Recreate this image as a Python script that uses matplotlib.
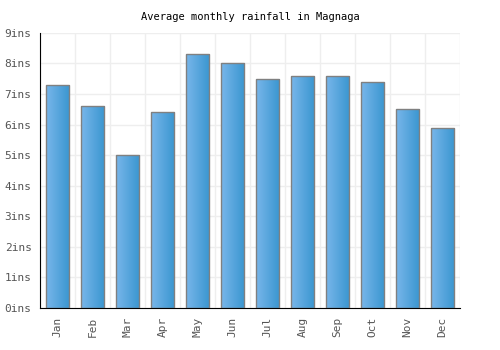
import matplotlib
matplotlib.use("Agg")
import matplotlib.pyplot as plt
import numpy as np
from matplotlib.colors import LinearSegmentedColormap

months = ["Jan", "Feb", "Mar", "Apr", "May", "Jun", "Jul", "Aug", "Sep", "Oct", "Nov", "Dec"]
rainfall = [7.3, 6.6, 5.0, 6.4, 8.3, 8.0, 7.5, 7.6, 7.6, 7.4, 6.5, 5.9]
yticks = [0, 1, 2, 3, 4, 5, 6, 7, 8, 9]
ytick_labels = [f"{v}ins" for v in yticks]
title = "Average monthly rainfall in Magnaga"

plt.rcParams['font.family'] = ['DejaVu Sans Mono']

fig = plt.figure(figsize=(5, 3.5), dpi=100)
ax = fig.add_axes([0.08, 0.12, 0.84, 0.786])

x = np.arange(len(months))
bars = ax.bar(x, rainfall, width=0.66, color="none", edgecolor="#808080", linewidth=1.0, zorder=3)

cmap = LinearSegmentedColormap.from_list("g", ["#78b6ea", "#3a96d0"])
grad = np.linspace(0, 1, 64).reshape(1, -1)
for b in bars:
    x0, y0 = b.get_x(), b.get_y()
    w, h = b.get_width(), b.get_height()
    im = ax.imshow(grad, cmap=cmap, aspect="auto", extent=[x0, x0 + w, y0, y0 + h], zorder=2, interpolation="bilinear")
    im.set_clip_path(b)

ax.set_xlim(-0.5, len(months) - 0.5)
ax.set_ylim(0, 9)
ax.set_yticks(yticks)
ax.set_yticklabels(ytick_labels, fontsize=8, color="#555555")
ax.set_xticks(x)
ax.set_xticklabels(months, rotation=90, fontsize=8, color="#555555")
ax.set_xticks(np.arange(-0.5, len(months), 1), minor=True)
ax.grid(False)
ax.grid(True, which="minor", axis="x", color="#eeeeee", linewidth=1, zorder=0)
ax.grid(True, which="major", axis="y", color="#eeeeee", linewidth=1, zorder=0)
ax.tick_params(axis="both", which="both", length=0, pad=6)

for s in ["top", "right"]:
    ax.spines[s].set_visible(False)
ax.spines["left"].set_color("black")
ax.spines["bottom"].set_color("black")

fig.text(0.5, 0.95, title, ha="center", va="center", fontsize=7.5, color="black")

fig.savefig("out.png", dpi=100)
